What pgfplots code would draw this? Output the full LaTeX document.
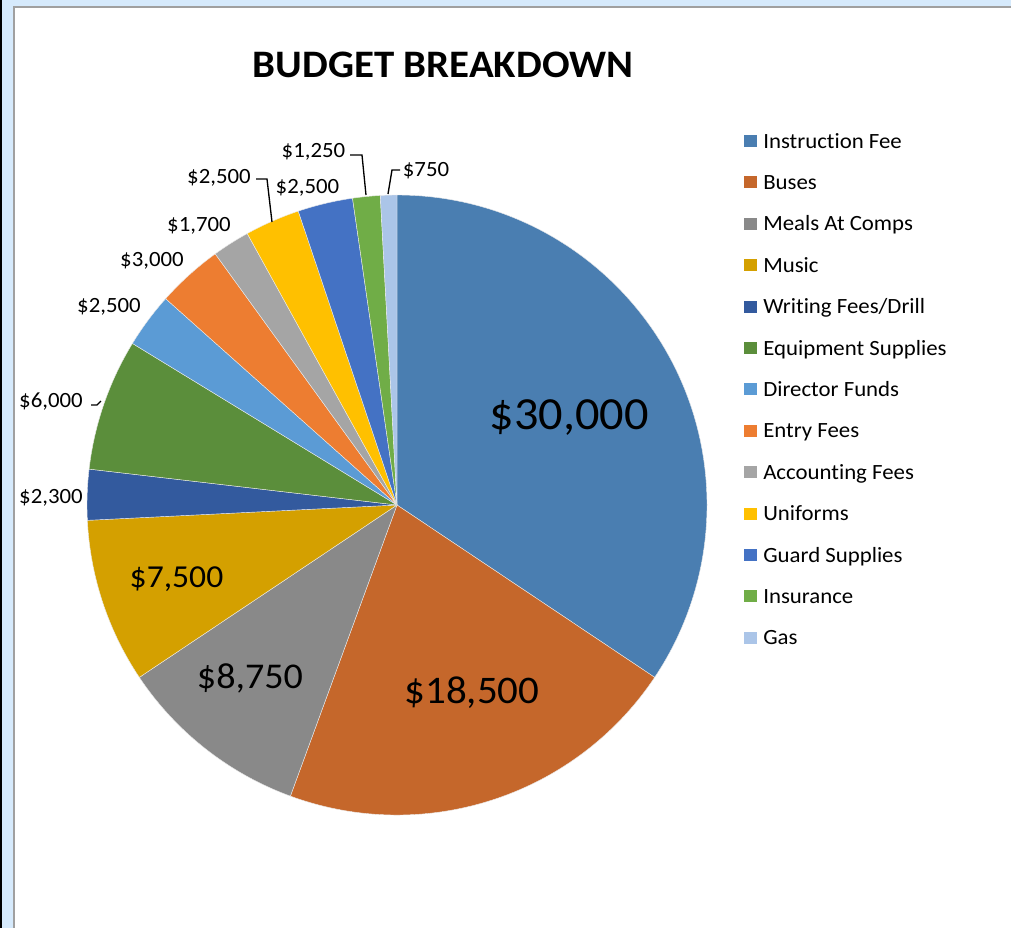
\documentclass[border=0pt]{standalone}
\usepackage{fontspec}
\setmainfont[FakeStretch=1.05,Ligatures=NoCommon]{Carlito}
\usepackage{pgfplots}
\pgfplotsset{compat=1.18}
\usepackage{pgfplotstable}

\definecolor{cA}{HTML}{4A7EB1}
\definecolor{cB}{HTML}{C5672B}
\definecolor{cC}{HTML}{898989}
\definecolor{cD}{HTML}{D4A000}
\definecolor{cE}{HTML}{335A9E}
\definecolor{cF}{HTML}{5B8E3B}
\definecolor{cG}{HTML}{5B9BD5}
\definecolor{cH}{HTML}{ED7D31}
\definecolor{cI}{HTML}{A5A5A5}
\definecolor{cJ}{HTML}{FFC000}
\definecolor{cK}{HTML}{4472C4}
\definecolor{cL}{HTML}{70AD47}
\definecolor{cM}{HTML}{ABC5E8}
\definecolor{frameblue}{RGB}{214,234,252}
\definecolor{framegray}{RGB}{160,160,160}

\newcommand\legfont{\fontsize{16.3}{19}\selectfont}
\newcommand\smallfont{\fontsize{16.3}{19}\selectfont}

\pgfplotstableread[col sep=comma,row sep=\\]{
name,value,color\\
Instruction Fee,30000,cA\\
Buses,18500,cB\\
Meals At Comps,8750,cC\\
Music,7500,cD\\
Writing Fees/Drill,2300,cE\\
Equipment Supplies,6000,cF\\
Director Funds,2500,cG\\
Entry Fees,3000,cH\\
Accounting Fees,1700,cI\\
Uniforms,2500,cJ\\
Guard Supplies,2500,cK\\
Insurance,1250,cL\\
Gas,750,cM\\
}\budget

\begin{document}
\begin{tikzpicture}
\begin{axis}[width=758.25pt,height=696pt,scale only axis,
  xmin=0,xmax=1011,ymin=0,ymax=928,y dir=reverse,hide axis,clip=false]
% frame
\fill[frameblue] (axis cs:0,0) rectangle (axis cs:1011,928);
\fill[black] (axis cs:0,0) rectangle (axis cs:2,928);
\fill[framegray] (axis cs:13,6) rectangle (axis cs:1011,928);
\fill[white] (axis cs:15,8) rectangle (axis cs:1011,928);

% total
\xdef\total{0}
\pgfplotsinvokeforeach{0,...,12}{%
  \pgfplotstablegetelem{#1}{value}\of\budget
  \xdef\total{\fpeval{\total+\pgfplotsretval}}%
}
% slices and legend
\xdef\startang{90}
\pgfplotsinvokeforeach{0,...,12}{%
  \pgfplotstablegetelem{#1}{value}\of\budget \let\val\pgfplotsretval
  \pgfplotstablegetelem{#1}{color}\of\budget \let\col\pgfplotsretval
  \pgfplotstablegetelem{#1}{name}\of\budget \let\nm\pgfplotsretval
  \xdef\endang{\fpeval{\startang-360*\val/\total}}%
  \edef\temp{\noexpand\fill[\col,draw=white!85!gray,line width=0.3pt] (axis cs:397,505) -- ++(\startang:232.5pt) arc[start angle=\startang,end angle=\endang,radius=232.5pt] -- cycle;}%
  \temp
  \edef\temp{\noexpand\fill[\col] (axis cs:744,\fpeval{135+41.4*#1}) rectangle (axis cs:757,\fpeval{147+41.4*#1});
    \noexpand\node[anchor=base west,inner sep=0pt,font=\noexpand\legfont] at (axis cs:763,\fpeval{148+41.4*#1}) {\nm};}%
  \temp
  \xdef\startang{\endang}%
}

% title
\node[anchor=base,inner sep=0pt,font=\bfseries\fontsize{29.2}{34}\selectfont] at (axis cs:443,77) {BUDGET BREAKDOWN};

% big labels
\node[anchor=base,inner sep=0pt,font=\fontsize{34.5}{40}\selectfont] at (axis cs:569,429) {\$30,000};
\node[anchor=base,inner sep=0pt,font=\fontsize{29.3}{34}\selectfont] at (axis cs:472,703) {\$18,500};
\node[anchor=base,inner sep=0pt,font=\fontsize{27.2}{32}\selectfont] at (axis cs:250,688) {\$8,750};
\node[anchor=base,inner sep=0pt,font=\fontsize{24}{28}\selectfont] at (axis cs:176.5,587) {\$7,500};

% small labels
\node[anchor=base,inner sep=0pt,font=\smallfont] at (axis cs:51,503) {\$2,300};
\node[anchor=base,inner sep=0pt,font=\smallfont] at (axis cs:51,407) {\$6,000};
\node[anchor=base,inner sep=0pt,font=\smallfont] at (axis cs:109,312) {\$2,500};
\node[anchor=base,inner sep=0pt,font=\smallfont] at (axis cs:152,266) {\$3,000};
\node[anchor=base,inner sep=0pt,font=\smallfont] at (axis cs:199,231) {\$1,700};
\node[anchor=base,inner sep=0pt,font=\smallfont] at (axis cs:219,183) {\$2,500};
\node[anchor=base,inner sep=0pt,font=\smallfont] at (axis cs:307.5,193) {\$2,500};
\node[anchor=base,inner sep=0pt,font=\smallfont] at (axis cs:313.5,157) {\$1,250};
\node[anchor=base,inner sep=0pt,font=\smallfont] at (axis cs:426,176) {\$750};

% leader lines
\draw[black,line width=1pt] (axis cs:350,155) -- (axis cs:362,155) -- (axis cs:366,195);
\draw[black,line width=1pt] (axis cs:400,170) -- (axis cs:392,170) -- (axis cs:388,194);
\draw[black,line width=1pt] (axis cs:256,179) -- (axis cs:267,179) -- (axis cs:272,222);
\draw[black,line width=1pt] (axis cs:91,405) -- (axis cs:97,405) -- (axis cs:101,401);
\end{axis}
\end{tikzpicture}
\end{document}
